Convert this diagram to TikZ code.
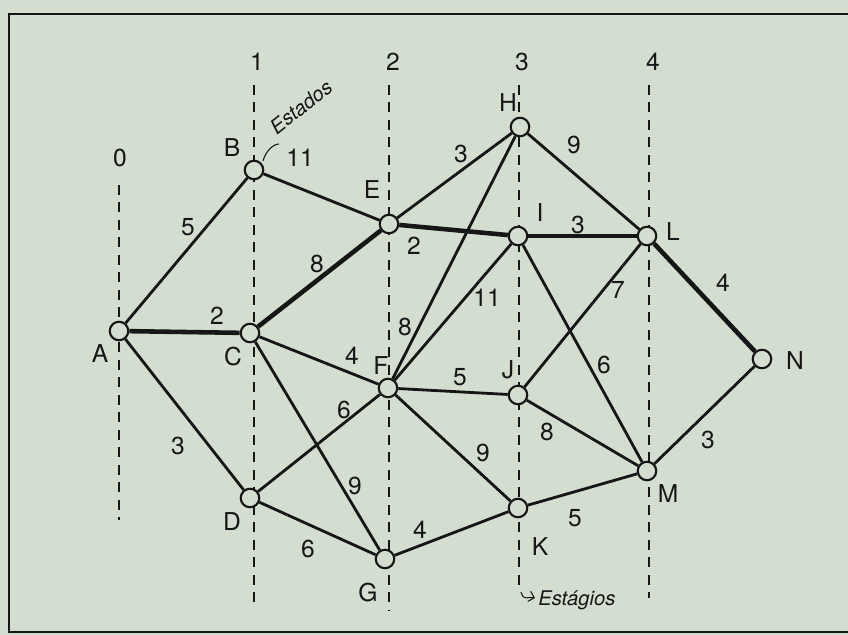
\documentclass[tikz,border=0pt]{standalone}
\usepackage{fontspec}
\setmainfont{TeX Gyre Heros}
\usetikzlibrary{arrows.meta}

\definecolor{paper}{RGB}{212,222,208}
\definecolor{ink}{RGB}{22,22,22}

\tikzset{
  st/.style={circle, draw=ink, fill=paper, line width=1.2pt, inner sep=0pt, minimum size=0.37cm},
  arc/.style={draw=ink, line width=1.6pt},
  best/.style={draw=ink, line width=2.6pt},
  stageline/.style={draw=ink, line width=0.8pt, dash pattern=on 0.2cm off 0.15cm},
  lbl/.style={text=ink, inner sep=0pt, font=\fontsize{14}{16}\selectfont},
  hand/.style={text=ink, inner sep=0pt, font=\fontsize{11.5}{13}\selectfont\itshape}
}

\begin{document}
\begin{tikzpicture}[x=0.02cm, y=-0.02cm]
  \useasboundingbox (0,0) rectangle (848,635);
  \fill[paper] (0,0) rectangle (848,635);
  \draw[ink, line width=1.6pt] (9,14) rectangle (860,632);

  % stages
  \draw[stageline] (119,185) -- (119,520);
  \draw[stageline] (254,85) -- (254,605);
  \draw[stageline] (389,85) -- (389,610);
  \draw[stageline] (519,85) -- (519,590);
  \draw[stageline] (649,85) -- (649,598);
  \node[lbl] (s0) at (120,158) {0};
  \node[lbl] (s1) at (257,62) {1};
  \node[lbl] (s2) at (393,62) {2};
  \node[lbl] (s3) at (522,62) {3};
  \node[lbl] (s4) at (653,62) {4};

  % states
  \node[st] (A) at (119,331) {};
  \node[st] (B) at (254,170) {};
  \node[st] (C) at (250,333) {};
  \node[st] (D) at (250,498) {};
  \node[st] (E) at (389,224) {};
  \node[st] (F) at (388,388) {};
  \node[st] (G) at (385,559) {};
  \node[st] (H) at (520,127) {};
  \node[st] (I) at (518,236) {};
  \node[st] (J) at (518,395) {};
  \node[st] (K) at (518,508) {};
  \node[st] (L) at (647,236) {};
  \node[st] (M) at (647,471) {};
  \node[st] (N) at (762,359) {};

  \node[lbl] at (100,354) {A};
  \node[lbl] at (232,148) {B};
  \node[lbl] at (233,357) {C};
  \node[lbl] at (232,522) {D};
  \node[lbl] at (372,190) {E};
  \node[lbl] at (381,366) {F};
  \node[lbl] at (368,593) {G};
  \node[lbl] at (508,103) {H};
  \node[lbl] at (540,213) {I};
  \node[lbl] at (508,370) {J};
  \node[lbl] at (540,547) {K};
  \node[lbl] at (673,232) {L};
  \node[lbl] at (668,494) {M};
  \node[lbl] at (795,361) {N};

  % arcs
  \draw[arc] (A) -- (B);
  \draw[best] (A) -- (C);
  \draw[arc] (A) -- (D);
  \draw[arc] (B) -- (E);
  \draw[best] (C) -- (E);
  \draw[arc] (C) -- (F);
  \draw[arc] (C) -- (G);
  \draw[arc] (D) -- (F);
  \draw[arc] (D) -- (G);
  \draw[arc] (E) -- (H);
  \draw[best] (E) -- (I);
  \draw[arc] (F) -- (H);
  \draw[arc] (F) -- (I);
  \draw[arc] (F) -- (J);
  \draw[arc] (F) -- (K);
  \draw[arc] (G) -- (K);
  \draw[arc] (H) -- (L);
  \draw[best] (I) -- (L);
  \draw[arc] (I) -- (M);
  \draw[arc] (J) -- (L);
  \draw[arc] (J) -- (M);
  \draw[arc] (K) -- (M);
  \draw[best] (L) -- (N);
  \draw[arc] (M) -- (N);

  % costs
  \node[lbl] at (188,227) {5};
  \node[lbl] at (217,316) {2};
  \node[lbl] at (178,446) {3};
  \node[lbl] at (300,158) {11};
  \node[lbl] at (317,264) {8};
  \node[lbl] at (352,356) {4};
  \node[lbl] at (355,486) {9};
  \node[lbl] at (344,410) {6};
  \node[lbl] at (308,549) {6};
  \node[lbl] at (461,154) {3};
  \node[lbl] at (414,246) {2};
  \node[lbl] at (405,327) {8};
  \node[lbl] at (487,298) {11};
  \node[lbl] at (460,377) {5};
  \node[lbl] at (483,453) {9};
  \node[lbl] at (420,530) {4};
  \node[lbl] at (574,145) {9};
  \node[lbl] at (578,225) {3};
  \node[lbl] at (604,365) {6};
  \node[lbl] at (618,290) {7};
  \node[lbl] at (547,432) {8};
  \node[lbl] at (575,518) {5};
  \node[lbl] at (723,283) {4};
  \node[lbl] at (708,440) {3};

  % notes
  \coordinate (eA) at (263,161);
  \coordinate (eB) at (279,144);
  \draw[ink, line width=0.6pt] (eA) .. controls (266,150) and (274,144) .. (eB);
  \node[hand, rotate=38, anchor=south west] (estados) at (277,136) {Estados};
  \coordinate (gA) at (521,592);
  \coordinate (gB) at (535,598);
  \draw[ink, line width=0.6pt, -{Straight Barb[length=3pt]}] (gA) .. controls (524,602) and (528,596) .. (gB);
  \node[hand, anchor=west] (estagios) at (538,600) {Estágios};
\end{tikzpicture}
\end{document}
